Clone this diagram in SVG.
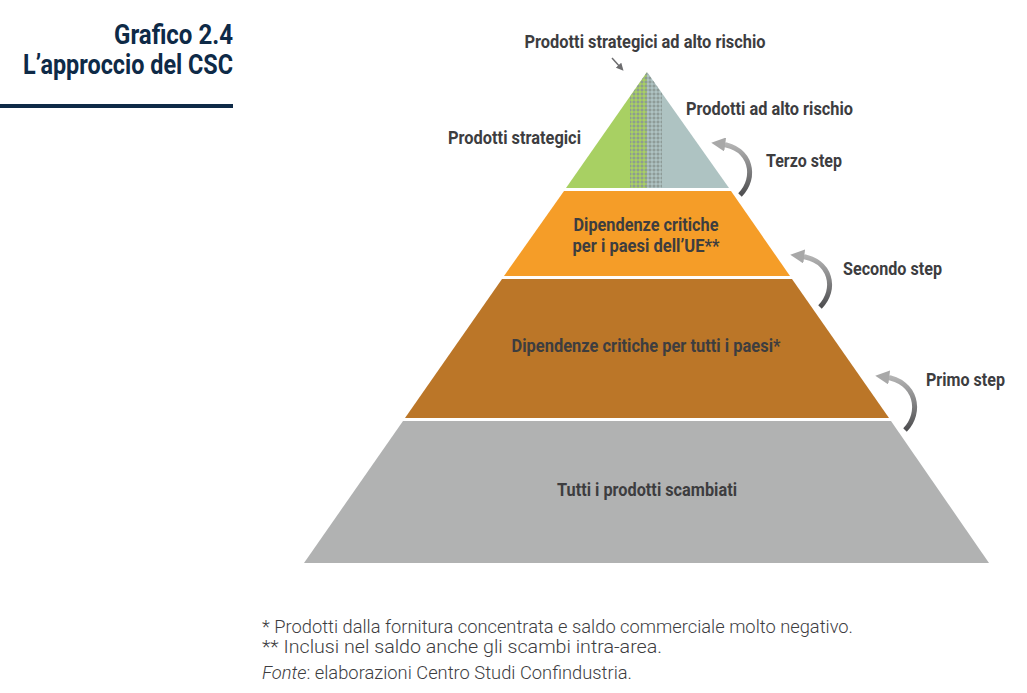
<svg xmlns="http://www.w3.org/2000/svg" width="1027" height="693" viewBox="0 0 1027 693">
<defs>
<style>
.t{font-family:Roboto,"Liberation Sans",sans-serif;font-weight:bold;font-size:18.5px;fill:#3d3d3f}
.ttl{font-family:Roboto,"Liberation Sans",sans-serif;font-weight:bold;font-size:27px;fill:#0e2a47}
.fn{font-family:Roboto,"Liberation Sans",sans-serif;font-weight:300;font-size:18px;fill:#3d3d3f}
.arc{fill:none;stroke:url(#ag);stroke-width:5;stroke-linecap:butt}
</style>
<linearGradient id="ag" x1="0" y1="0" x2="0" y2="1">
<stop offset="0" stop-color="#b4b4b4"/>
<stop offset="1" stop-color="#4e4e50"/>
</linearGradient>
<pattern id="dots" width="4" height="4" patternUnits="userSpaceOnUse">
<rect x="1" y="0.5" width="2" height="3" fill="#8a9894" opacity="0.7"/>
<rect x="0.5" y="1" width="3" height="2" fill="#8a9894" opacity="0.7"/>
</pattern>
<marker id="ah" viewBox="0 0 10 10" refX="3" refY="5" markerWidth="2.8" markerHeight="2.8" orient="auto" markerUnits="strokeWidth">
<path d="M0,0 L10,5 L0,10 Z" fill="#a8a8a8"/>
</marker>
<marker id="ah2" viewBox="0 0 10 10" refX="5" refY="5" markerWidth="5" markerHeight="5" orient="auto" markerUnits="strokeWidth">
<path d="M0,0 L10,5 L0,10 Z" fill="#6d6d6f"/>
</marker>
<clipPath id="topc"><polygon points="647,72 566,188 729,188"/></clipPath>
</defs>

<g id="title">
<text class="ttl" x="233" y="44" text-anchor="end" textLength="119" lengthAdjust="spacingAndGlyphs">Grafico 2.4</text>
<text class="ttl" x="233" y="74" text-anchor="end" textLength="210" lengthAdjust="spacingAndGlyphs">L’approccio del CSC</text>
<rect x="0" y="104" width="233" height="4" fill="#0e2a47"/>
</g>

<g id="top">
<polygon points="647,72 566,188 647,188" fill="#a8d063"/>
<polygon points="647,72 729,188 647,188" fill="#aec3c2"/>
<rect x="630" y="72" width="32" height="116" fill="url(#dots)" clip-path="url(#topc)"/>
</g>

<g id="ue">
<polygon points="564,191 731,191 790,276 504,276" fill="#f59d28"/>
<text class="t" x="646" y="231" text-anchor="middle" textLength="145" lengthAdjust="spacingAndGlyphs">Dipendenze critiche</text>
<text class="t" x="646" y="252" text-anchor="middle" textLength="147" lengthAdjust="spacingAndGlyphs">per i paesi dell’UE**</text>
</g>

<g id="tutti-paesi">
<polygon points="502,279 792,279 889,418 405,418" fill="#bb7628"/>
<text class="t" x="646" y="352" text-anchor="middle" textLength="269" lengthAdjust="spacingAndGlyphs">Dipendenze critiche per tutti i paesi*</text>
</g>

<g id="tutti-prodotti">
<polygon points="403,421 891,421 989,563 304,563" fill="#b1b2b2"/>
<text class="t" x="647" y="496" text-anchor="middle" textLength="180" lengthAdjust="spacingAndGlyphs">Tutti i prodotti scambiati</text>
</g>

<g id="labels">
<text class="t" x="645" y="48" text-anchor="middle" textLength="241" lengthAdjust="spacingAndGlyphs">Prodotti strategici ad alto rischio</text>
<text class="t" x="686" y="115" textLength="167" lengthAdjust="spacingAndGlyphs">Prodotti ad alto rischio</text>
<text class="t" x="448" y="144" textLength="133" lengthAdjust="spacingAndGlyphs">Prodotti strategici</text>
<text class="t" x="766" y="167" textLength="76" lengthAdjust="spacingAndGlyphs">Terzo step</text>
<text class="t" x="843" y="275" textLength="99" lengthAdjust="spacingAndGlyphs">Secondo step</text>
<text class="t" x="926" y="386" textLength="79" lengthAdjust="spacingAndGlyphs">Primo step</text>
</g>

<g id="connectors">
<path class="arc" d="M740,195 C757,178 752,148 721,144" marker-end="url(#ah)"/>
<path class="arc" d="M820,307 C837,290 832,260 800,256" marker-end="url(#ah)"/>
<path class="arc" d="M905,430 C922,413 917,381 885,377" marker-end="url(#ah)"/>
<line x1="612" y1="58" x2="621" y2="68" stroke="#6d6d6f" stroke-width="1.5" marker-end="url(#ah2)"/>
</g>

<g id="notes">
<text class="fn" x="262" y="633" textLength="591" lengthAdjust="spacingAndGlyphs">* Prodotti dalla fornitura concentrata e saldo commerciale molto negativo.</text>
<text class="fn" x="262" y="653" textLength="400" lengthAdjust="spacingAndGlyphs">** Inclusi nel saldo anche gli scambi intra-area.</text>
<text class="fn" x="262" y="679" textLength="370" lengthAdjust="spacingAndGlyphs"><tspan font-style="italic">Fonte</tspan>: elaborazioni Centro Studi Confindustria.</text>
</g>
</svg>
